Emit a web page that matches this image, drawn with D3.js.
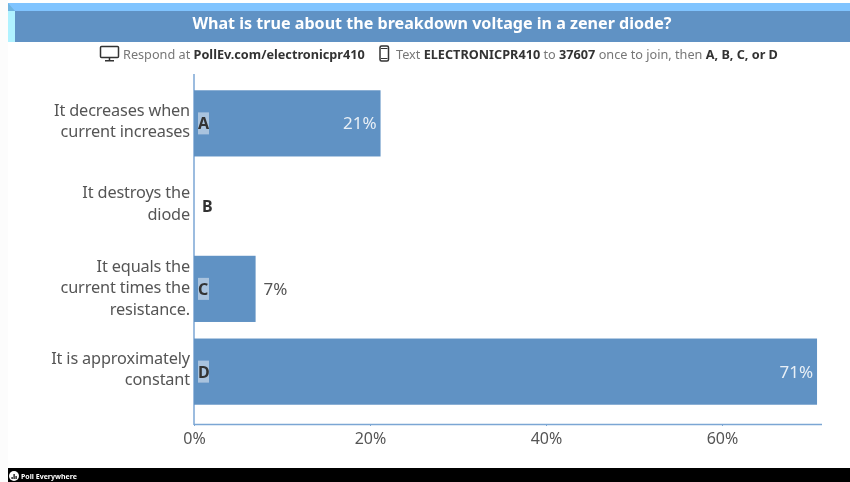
<!DOCTYPE html>
<html><head><meta charset="utf-8">
<script src="https://cdn.jsdelivr.net/npm/d3@7"></script>
<style>html,body{margin:0;padding:0;background:#fff}svg{display:block;filter:blur(.35px)}text{font-family:"Noto Sans",sans-serif}</style>
</head><body><svg id="c" width="850" height="482"></svg>
<script>
const title = "What is true about the breakdown voltage in a zener diode?";
const letters = ["A","B","C","D"];
const answers = [["It decreases when","current increases"],["It destroys the","diode"],["It equals the","current times the","resistance."],["It is approximately","constant"]];
const values = [21.2,0,7,70.8];
const valueLabels = ["21%","","7%","71%"];
const ticks = [0,20,40,60];
const instructions = [["Respond at ",0],["PollEv.com/electronicpr410",1]];
const instructions2 = [["Text ",0],["ELECTRONICPR410",1],[" to ",0],["37607",1],[" once to join, then ",0],["A, B, C, or D",1]];

const svg = d3.select("#c");
const x = d3.scaleLinear().domain([0,60]).range([194,722]);
const y = d3.scaleBand().domain(letters).range([82,413]).paddingInner(.2).paddingOuter(.1);
const blue="#6092c4", grey="#555", dark="#333";

svg.append("rect").attr("x",0).attr("y",0).attr("width",8).attr("height",482).attr("fill","#fcfcfc");
svg.append("rect").attr("x",8).attr("y",3).attr("width",842).attr("height",8).attr("fill","#80c4ff");
svg.append("rect").attr("x",8).attr("y",11).attr("width",7).attr("height",31).attr("fill","#b0f2ff");
svg.append("path").attr("d",d3.line()([[8,3],[15,11],[8,11]])).attr("fill","#6fb4e0");
svg.append("rect").attr("x",15).attr("y",11).attr("width",835).attr("height",31).attr("fill",blue);
svg.append("text").attr("x",432).attr("y",29).attr("text-anchor","middle").attr("fill","#fff")
  .attr("font-size",16.1).attr("font-weight",700).text(title);

// instruction line
function runs(x0,list){const t=svg.append("text").attr("x",x0).attr("y",59).attr("font-size",12.7);
  list.forEach(([s,b])=>t.append("tspan").style("white-space","pre").attr("fill",b?"#333":"#777").attr("font-weight",b?700:400).text(s));}
runs(123,instructions); runs(396,instructions2);
const ic=svg.append("g").attr("fill","none").attr("stroke","#333").attr("stroke-width",1.5);
ic.append("rect").attr("x",100.5).attr("y",46.5).attr("width",18).attr("height",11).attr("rx",1);
ic.append("path").attr("d","M109.5 58v2.5M105 60.8h9");
ic.append("rect").attr("x",380).attr("y",46).attr("width",8.5).attr("height",15).attr("rx",1.5);
ic.append("path").attr("d","M381 58.5h6.5M381 48.5h6.5").attr("stroke-width",1);

// axes
const gx=svg.append("g").attr("transform","translate(0,424)").call(d3.axisBottom(x).tickValues(ticks).tickFormat(d=>d+"%").tickSize(2).tickPadding(7));
gx.select(".domain").remove();
gx.selectAll("line").attr("stroke","#7ba6d4");
gx.selectAll("text").attr("font-size",16).attr("fill",grey);
svg.append("line").attr("x1",194).attr("x2",822).attr("y1",424.5).attr("y2",424.5).attr("stroke","#7ba6d4").attr("stroke-width",1.5);
svg.append("line").attr("x1",194).attr("x2",194).attr("y1",74).attr("y2",425).attr("stroke","#7ba6d4").attr("stroke-width",1.5);

// bars
svg.append("g").selectAll("rect").data(values).join("rect")
 .attr("x",x(0)).attr("y",(d,i)=>y(letters[i])).attr("width",d=>x(d)-x(0)).attr("height",y.bandwidth()).attr("fill",blue);

// letters
const cy=i=>y(letters[i])+y.bandwidth()/2;
letters.forEach((l,i)=>{
  if(values[i]>0) svg.append("rect").attr("x",198).attr("y",cy(i)-11).attr("width",11).attr("height",22).attr("fill","#a9c3de");
  svg.append("text").attr("x",values[i]>0?198:202).attr("y",cy(i)+6).attr("font-size",16).attr("font-weight",700).attr("fill",dark).text(l);
  const lines=answers[i];
  const t=svg.append("text").attr("text-anchor","end").attr("font-size",16.3).attr("letter-spacing",-.15).attr("fill",grey);
  const base=lines.length===3?4.5:3;
  lines.forEach((s,k)=>t.append("tspan").attr("x",190).attr("y",cy(i)+base+(k-(lines.length-1)/2)*21.5).text(s));
  if(valueLabels[i]){const inside=values[i]>10;
    svg.append("text").attr("x",inside?x(values[i])-4:x(values[i])+8).attr("y",cy(i)+6).attr("text-anchor",inside?"end":"start")
      .attr("font-size",17).attr("fill",inside?"#e8eff6":grey).text(valueLabels[i]);}
});

// footer
svg.append("rect").attr("x",8).attr("y",468).attr("width",842).attr("height",14).attr("fill","#000");
svg.append("circle").attr("cx",14).attr("cy",476).attr("r",5).attr("fill","#fff");
svg.append("g").selectAll("rect").data([2,5,3]).join("rect").attr("x",(d,i)=>11.5+i*2).attr("y",d=>479-d).attr("width",1.2).attr("height",d=>d).attr("fill","#000");
svg.append("text").attr("x",21).attr("y",479).attr("font-size",7).attr("font-weight",700).attr("fill","#fff").text("Poll Everywhere");
</script></body></html>
